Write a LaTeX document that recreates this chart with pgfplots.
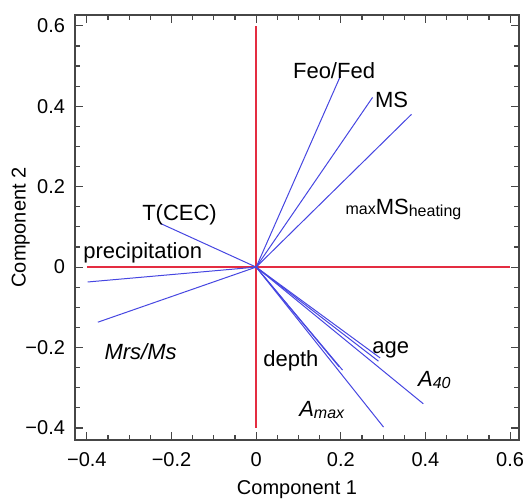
\documentclass[border=0pt]{standalone}
\usepackage{fontspec}
\setmainfont{Liberation Sans}
\usepackage{pgfplots}
\pgfplotsset{compat=1.18}
\definecolor{vred}{RGB}{228,45,65}
\definecolor{vblue}{RGB}{70,70,225}
\definecolor{frmcol}{RGB}{70,70,70}
\begin{document}
\begin{tikzpicture}
\begin{axis}[
  scale only axis,
  width=222pt, height=212.5pt,
  xmin=-0.428, xmax=0.621,
  ymin=-0.43, ymax=0.627,
  xtick={-0.4,-0.2,0,0.2,0.4,0.6},
  ytick={-0.4,-0.2,0,0.2,0.4,0.6},
  xticklabels={−0.4,−0.2,0,0.2,0.4,0.6},
  yticklabels={−0.4,−0.2,0,0.2,0.4,0.6},
  minor x tick num=3, minor y tick num=3,
  tick align=inside,
  major tick length=4pt, minor tick length=2.5pt,
  axis line style={frmcol, line width=0.8pt},
  every tick/.style={frmcol, line width=0.6pt},
  tick label style={font=\fontsize{10}{12}\selectfont},
  xticklabel style={yshift=-2.5pt},
  yticklabel style={xshift=-1.5pt},
  xlabel={Component 1}, ylabel={Component 2},
  label style={font=\fontsize{10}{12}\selectfont},
  xlabel style={yshift=-0.5pt},
  ylabel style={yshift=-9pt},
]
\addplot[vred, line width=0.7pt] coordinates {(-0.4,0) (0.6,0)};
\addplot[vred, line width=0.7pt] coordinates {(0,-0.4) (0,0.6)};
\addplot[vblue, line width=0.5pt] coordinates {(0,0) (-0.227,0.109)};
\addplot[vblue, line width=0.5pt] coordinates {(0,0) (-0.398,-0.037)};
\addplot[vblue, line width=0.5pt] coordinates {(0,0) (-0.374,-0.137)};
\addplot[vblue, line width=0.5pt] coordinates {(0,0) (0.199,0.475)};
\addplot[vblue, line width=0.5pt] coordinates {(0,0) (0.275,0.422)};
\addplot[vblue, line width=0.5pt] coordinates {(0,0) (0.367,0.380)};
\addplot[vblue, line width=0.5pt] coordinates {(0,0) (0.289,-0.234)};
\addplot[vblue, line width=0.5pt] coordinates {(0,0) (0.293,-0.226)};
\addplot[vblue, line width=0.5pt] coordinates {(0,0) (0.395,-0.340)};
\addplot[vblue, line width=0.5pt] coordinates {(0,0) (0.204,-0.256)};
\addplot[vblue, line width=0.5pt] coordinates {(0,0) (0.196,-0.248)};
\addplot[vblue, line width=0.5pt] coordinates {(0,0) (0.301,-0.398)};
\node[font=\fontsize{11}{13}\selectfont, inner sep=0pt] at (axis cs:0.184,0.489) {Feo/Fed};
\node[font=\fontsize{11}{13}\selectfont, inner sep=0pt] at (axis cs:0.320,0.417) {MS};
\node[font=\fontsize{11}{13}\selectfont, inner sep=0pt] at (axis cs:0.348,0.143) {{\fontsize{8}{9}\selectfont max}MS\raisebox{-0.2ex}{\fontsize{8}{9}\selectfont heating}};
\node[font=\fontsize{11}{13}\selectfont, inner sep=0pt] at (axis cs:-0.181,0.131) {T(CEC)};
\node[font=\fontsize{11}{13}\selectfont, inner sep=0pt] at (axis cs:-0.268,0.035) {precipitation};
\node[font=\fontsize{11}{13}\selectfont, inner sep=0pt] at (axis cs:-0.273,-0.210) {\itshape Mrs/Ms};
\node[font=\fontsize{11}{13}\selectfont, inner sep=0pt] at (axis cs:0.082,-0.232) {depth};
\node[font=\fontsize{11}{13}\selectfont, inner sep=0pt] at (axis cs:0.318,-0.205) {age};
\node[font=\fontsize{11}{13}\selectfont, inner sep=0pt] at (axis cs:0.421,-0.281) {\itshape A\raisebox{-0.2ex}{\fontsize{8}{9}\selectfont 40}};
\node[font=\fontsize{11}{13}\selectfont, inner sep=0pt] at (axis cs:0.155,-0.356) {\itshape A\raisebox{-0.2ex}{\fontsize{8}{9}\selectfont max}};
\end{axis}
\pgfresetboundingbox
\path[use as bounding box] ([xshift=-37.5pt,yshift=-29.5pt]current axis.south west) rectangle ([xshift=3pt,yshift=7.5pt]current axis.north east);
\end{tikzpicture}
\end{document}
